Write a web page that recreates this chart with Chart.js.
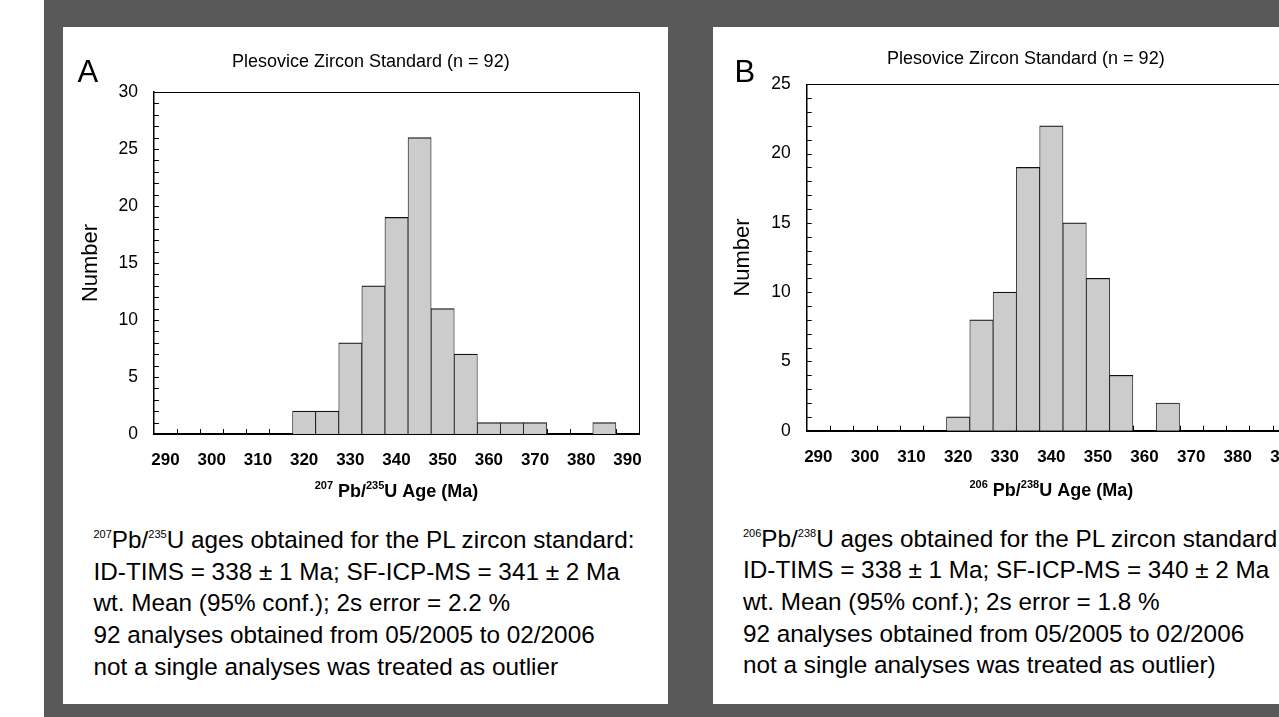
<!DOCTYPE html>
<html>
<head>
<meta charset="utf-8">
<script src="https://cdn.jsdelivr.net/npm/chart.js@4.4.1/dist/chart.umd.min.js"></script>
<style>
  body { margin: 0; width: 1279px; height: 717px; overflow: hidden; position: relative; background: #fff;
         font-family: "Liberation Sans", Arial, sans-serif; color: #000; }
  #bg { position: absolute; left: 44px; top: 0; width: 1300px; height: 717px; background: #595959; }
  .panel { position: absolute; top: 27px; width: 605px; height: 677px; background: #fff; }
  .panel canvas { position: absolute; left: 0; top: 0; }
  .letter { position: absolute; font-size: 31px; line-height: 31px; white-space: nowrap; }
  .title { position: absolute; font-size: 18px; line-height: 18px; white-space: nowrap; }
  .caption { position: absolute; font-size: 24.3px; line-height: 31.7px; white-space: nowrap; }
  .caption .sup { font-size: 11px; line-height: 0; position: relative; top: -10px; }
</style>
</head>
<body>
<div id="bg"></div>

<div class="panel" style="left:63px">
  <canvas id="chartA" width="605" height="480"></canvas>
  <div class="letter" style="left:14.5px; top:29px">A</div>
  <div class="title" style="left:169px; top:25px">Plesovice Zircon Standard (n = 92)</div>
  <div class="caption" style="left:30.5px; top:497px">
    <span class="sup">207</span>Pb/<span class="sup">235</span>U ages obtained for the PL zircon standard:<br>
    ID-TIMS = 338 ± 1 Ma; SF-ICP-MS = 341 ± 2 Ma<br>
    wt. Mean (95% conf.); 2s error = 2.2 %<br>
    92 analyses obtained from 05/2005 to 02/2006<br>
    not a single analyses was treated as outlier
  </div>
</div>

<div class="panel" style="left:713px">
  <canvas id="chartB" width="605" height="480"></canvas>
  <div class="letter" style="left:21.4px; top:29px">B</div>
  <div class="title" style="left:174px; top:22.4px">Plesovice Zircon Standard (n = 92)</div>
  <div class="caption" style="left:30px; top:495.5px">
    <span class="sup">206</span>Pb/<span class="sup">238</span>U ages obtained for the PL zircon standard:<br>
    ID-TIMS = 338 ± 1 Ma; SF-ICP-MS = 340 ± 2 Ma<br>
    wt. Mean (95% conf.); 2s error = 1.8 %<br>
    92 analyses obtained from 05/2005 to 02/2006<br>
    not a single analyses was treated as outlier)
  </div>
</div>

<script>
// bins (Ma), 5 Ma wide, labelled every 10
const ageBins = [290, 295, 300, 305, 310, 315, 320, 325, 330, 335, 340,
                 345, 350, 355, 360, 365, 370, 375, 380, 385, 390];
// 207Pb/235U ages
const countsA = [0, 0, 0, 0, 0, 0, 2, 2, 8, 13, 19, 26, 11, 7, 1, 1, 1, 0, 0, 1, 0];
// 206Pb/238U ages
const countsB = [0, 0, 0, 0, 0, 0, 1, 8, 10, 19, 22, 15, 11, 4, 0, 2, 0, 0, 0, 0, 0];
const yMaxA = 30;
const yMaxB = 25;
const xTitleA = [['207', true], [' Pb/', false], ['235', true], ['U Age (Ma)', false]];
const xTitleB = [['206', true], [' Pb/', false], ['238', true], ['U Age (Ma)', false]];

Chart.defaults.font.family = '"Liberation Sans", Arial, sans-serif';
Chart.defaults.color = '#000';

// inward tick marks, top/right frame and the x title with superscripts
const frameTicks = {
  id: 'frameTicks',
  beforeDatasetsDraw(chart) {
    const {ctx, chartArea: a, scales: {x, y}} = chart;
    ctx.save();
    ctx.strokeStyle = '#000';
    ctx.lineWidth = 1;
    ctx.beginPath();
    for (let v = y.min + 1; v < y.max; v++) {
      const py = Math.round(y.getPixelForValue(v)) + 0.5;
      ctx.moveTo(a.left, py);
      ctx.lineTo(a.left + 5, py);
    }
    for (let i = 1; i < x.ticks.length; i++) {
      const px = Math.round((x.getPixelForValue(i - 1) + x.getPixelForValue(i)) / 2) + 0.5;
      ctx.moveTo(px, a.bottom);
      ctx.lineTo(px, a.bottom - 5);
    }
    ctx.stroke();
    ctx.beginPath();
    ctx.moveTo(a.left, Math.round(a.top) + 0.5);
    ctx.lineTo(Math.round(a.right) + 0.5, Math.round(a.top) + 0.5);
    ctx.lineTo(Math.round(a.right) + 0.5, a.bottom);
    ctx.stroke();
    ctx.restore();
  },
  afterDraw(chart, args, opts) {
    const {ctx, chartArea: a} = chart;
    const fam = '"Liberation Sans", Arial, sans-serif';
    const big = 'bold 18px ' + fam, small = 'bold 11px ' + fam;
    ctx.save();
    ctx.fillStyle = '#000';
    ctx.textBaseline = 'alphabetic';
    let w = 0;
    opts.parts.forEach(([t, sup]) => { ctx.font = sup ? small : big; w += ctx.measureText(t).width; });
    let x = (a.left + a.right) / 2 - w / 2;
    const base = a.bottom + opts.offset;
    opts.parts.forEach(([t, sup]) => {
      ctx.font = sup ? small : big;
      ctx.fillText(t, x, sup ? base - 7.8 : base);
      x += ctx.measureText(t).width;
    });
    ctx.restore();
  }
};

function makeChart(id, counts, yMax, pad, yWidth, xHeight, yTitlePad, parts, offset) {
  return new Chart(document.getElementById(id), {
    type: 'bar',
    data: {
      labels: ageBins,
      datasets: [{
        data: counts,
        backgroundColor: '#cccccc',
        borderColor: '#111111',
        borderWidth: {top: 1.2, left: 0.8, right: 0.8, bottom: 0},
        borderSkipped: 'start',
        categoryPercentage: 1,
        barPercentage: 1
      }]
    },
    options: {
      responsive: false,
      animation: false,
      layout: {padding: pad},
      plugins: {
        legend: {display: false},
        tooltip: {enabled: false},
        frameTicks: {parts: parts, offset: offset}
      },
      scales: {
        x: {
          grid: {display: false, drawTicks: false},
          border: {display: true, color: '#000', width: 2},
          ticks: {
            autoSkip: false,
            maxRotation: 0,
            padding: 16,
            font: {size: 17, weight: 'bold'},
            callback: (v, i) => (ageBins[i] % 10 === 0 ? ageBins[i] : '')
          },
          afterFit: s => { s.height = xHeight; }
        },
        y: {
          min: 0,
          max: yMax,
          grid: {display: false, drawTicks: false},
          border: {display: true, color: '#000', width: 1.5},
          ticks: {stepSize: 5, padding: 16, font: {size: 17.5}},
          title: {display: true, text: 'Number', font: {size: 22}, padding: {top: yTitlePad, bottom: 0}},
          afterFit: s => { s.width = yWidth; }
        }
      }
    },
    plugins: [frameTicks]
  });
}

makeChart('chartA', countsA, yMaxA, {left: 0, right: 29, top: 65, bottom: 0}, 91, 73, 14.4, xTitleA, 62.7);
makeChart('chartB', countsB, yMaxB, {left: 0, right: 22, top: 57.3, bottom: 0}, 93.7, 76.3, 16.8, xTitleB, 65.3);
</script>
</body>
</html>
